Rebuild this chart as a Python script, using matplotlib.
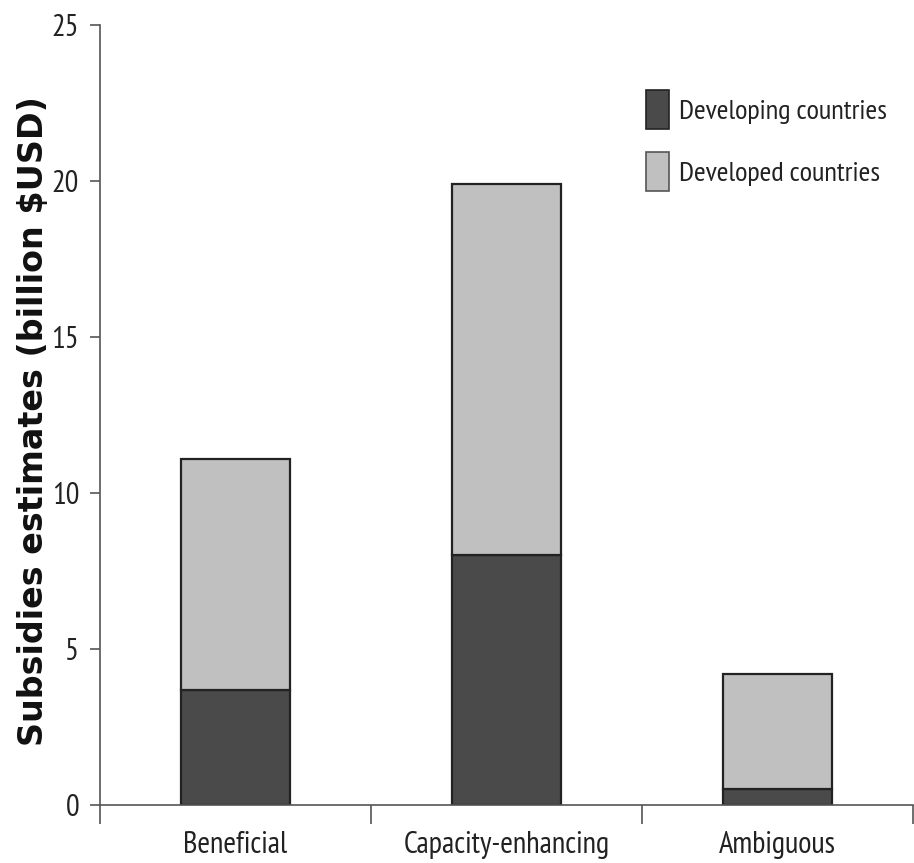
import matplotlib
matplotlib.use("Agg")
import matplotlib.pyplot as plt
from matplotlib.patches import Patch

categories = ["Beneficial", "Capacity-enhancing", "Ambiguous"]
developing = [3.7, 8.0, 0.5]
developed = [7.4, 11.9, 3.7]
series_names = ["Developing countries", "Developed countries"]
yticks = [0, 5, 10, 15, 20, 25]

dark = "#4a4a4a"
light = "#c0c0c0"
edge = "#222222"

narrow = ["PT Sans Narrow", "DejaVu Sans"]

fig = plt.figure(figsize=(9.14, 8.63), dpi=100)
ax = fig.add_axes([100/914, 58/863, 813/914, 780/863])

x = list(range(len(categories)))
ax.bar(x, developing, width=0.405, color=dark, edgecolor=edge, linewidth=1.6)
ax.bar(x, developed, width=0.405, bottom=developing, color=light, edgecolor=edge, linewidth=1.6)

ax.set_xlim(-0.5, len(categories) - 0.5)
ax.set_ylim(0, 25)
ax.set_yticks(yticks)
ax.set_yticklabels([str(t) for t in yticks], family=narrow, fontsize=22, color="#222222")
ax.set_xticks(x)
ax.set_xticklabels(categories, family=narrow, fontsize=22, color="#222222")
ax.tick_params(axis='x', length=0, pad=19)
ax.set_xticks([i - 0.5 for i in range(len(categories) + 1)], minor=True)
ax.tick_params(axis='x', which='minor', length=14, width=1.2, color="#555555", direction='out')
ax.tick_params(axis='y', length=7, width=1.2, color="#555555", pad=8)

for s in ["top", "right"]:
    ax.spines[s].set_visible(False)
for s in ["left", "bottom"]:
    ax.spines[s].set_color("#555555")
    ax.spines[s].set_linewidth(1.2)

ax.set_ylabel("Subsidies estimates (billion $USD)", fontsize=24, fontweight="bold",
              family="DejaVu Sans", color="#111111")
ax.yaxis.set_label_coords(-50/813, 0.492)

handles = [Patch(facecolor=dark, edgecolor=edge, linewidth=1.2),
           Patch(facecolor=light, edgecolor="#555555", linewidth=1.2)]
leg = ax.legend(handles, series_names, loc="upper left", bbox_to_anchor=(0.640, 0.950),
                frameon=False, prop={"family": narrow, "size": 20.5},
                handlelength=0.82, handleheight=1.75, handletextpad=0.35, labelspacing=0.8)
for t in leg.get_texts():
    t.set_color("#222222")

fig.savefig("out.png", dpi=100)
